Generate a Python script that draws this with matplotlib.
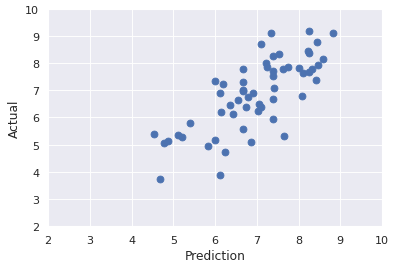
import matplotlib
matplotlib.use('Agg')
import matplotlib.pyplot as plt
import seaborn as sns

sns.set_theme()

pred = [4.54, 4.69, 4.78, 4.88, 5.11, 5.22, 5.41, 5.84, 6.00, 6.01, 6.13, 6.13, 6.18, 6.15,
        6.25, 6.37, 6.44, 6.54, 6.66, 6.66, 6.66, 6.66, 6.66, 6.74, 6.80, 6.85, 6.92, 7.11,
        7.06, 7.09, 7.04, 7.21, 7.25, 7.33, 7.38, 7.38, 7.38, 7.38, 7.38, 7.42, 7.52, 7.62,
        7.64, 7.74, 8.02, 8.08, 8.10, 8.22, 8.24, 8.24, 8.25, 8.32, 8.41, 8.45, 8.46, 8.59, 8.82]
actual = [5.39, 3.74, 5.06, 5.12, 5.36, 5.28, 5.80, 4.95, 7.34, 5.17, 3.88, 6.90, 7.23, 6.20,
          4.73, 6.46, 6.13, 6.64, 7.78, 7.32, 7.03, 6.96, 5.59, 6.39, 6.74, 5.10, 6.90, 8.70,
          6.50, 6.39, 6.24, 8.00, 7.87, 9.11, 8.26, 7.71, 7.52, 6.69, 5.94, 7.08, 8.33, 7.78,
          5.33, 7.86, 7.82, 6.79, 7.65, 8.44, 8.36, 9.18, 7.68, 7.78, 7.38, 8.77, 7.93, 8.15, 9.11]

fig = plt.figure(figsize=(6.0, 4.04), dpi=66.33)
ax = fig.add_axes([0.1206, 0.153, 0.8394, 0.81])
ax.scatter(pred, actual, s=55)
ax.set_xlim(2, 10)
ax.set_ylim(2, 10)
ax.set_xlabel('Prediction', fontsize=13.3, labelpad=5)
ax.set_ylabel('Actual', fontsize=13.3, labelpad=5)
ax.tick_params(labelsize=12.1)
fig.savefig('out.png', dpi=66.33)
